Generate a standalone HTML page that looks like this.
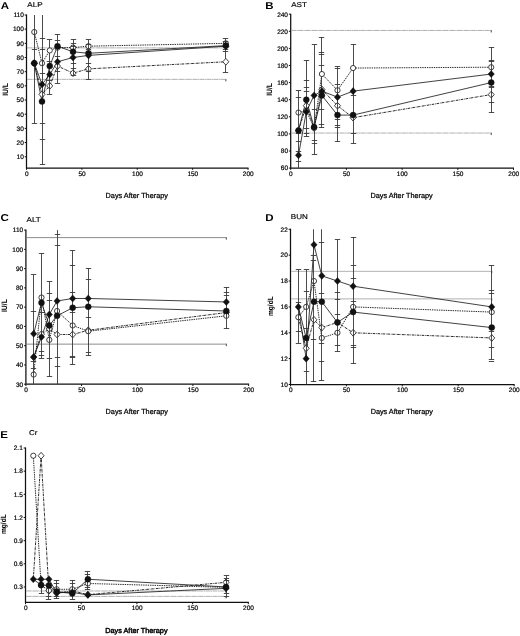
<!DOCTYPE html>
<html lang="en">
<head>
<meta charset="utf-8">
<title>Serum chemistry after therapy</title>
<style>
html,body{margin:0;padding:0;background:#fff;}
body{width:520px;height:636px;overflow:hidden;}
svg{display:block;font-family:"Liberation Sans", Arial, sans-serif;}
</style>
</head>
<body>
<svg width="520" height="636" viewBox="0 0 520 636" text-rendering="geometricPrecision">
<rect width="520" height="636" fill="#fff"/>
<g id="pA">
<path d="M26.5 14.5V168.5M26 168H248.5" stroke="#111" stroke-width="1.25" fill="none"/>
<path d="M24.7 156.73H26.5M24.7 142.56H26.5M24.7 128.39H26.5M24.7 114.21H26.5M24.7 100.04H26.5M24.7 85.87H26.5M24.7 71.69H26.5M24.7 57.52H26.5M24.7 43.35H26.5M24.7 29.17H26.5M24.7 15H26.5M26.5 168V169.8M81.88 168V169.8M137.25 168V169.8M192.62 168V169.8M248 168V169.8" stroke="#111" stroke-width="1" fill="none"/>
<g font-size="6.5" fill="#000" stroke="#000" stroke-width="0.2" text-anchor="end">
<text x="23.8" y="159.03">10</text>
<text x="23.8" y="144.86">20</text>
<text x="23.8" y="130.69">30</text>
<text x="23.8" y="116.51">40</text>
<text x="23.8" y="102.34">50</text>
<text x="23.8" y="88.17">60</text>
<text x="23.8" y="73.99">70</text>
<text x="23.8" y="59.82">80</text>
<text x="23.8" y="45.65">90</text>
<text x="23.8" y="31.47">100</text>
<text x="23.8" y="17.3">110</text>
</g>
<g font-size="6.5" fill="#000" stroke="#000" stroke-width="0.2" text-anchor="middle">
<text x="26.7" y="175.9">0</text>
<text x="82.08" y="175.9">50</text>
<text x="137.45" y="175.9">100</text>
<text x="192.82" y="175.9">150</text>
<text x="248.2" y="175.9">200</text>
</g>
<text x="136.75" y="197.9" font-size="7.3" text-anchor="middle" fill="#000" stroke="#000" stroke-width="0.24">Days After Therapy</text>
<text transform="translate(7.9 89.4) scale(1.15 1) rotate(-90)" font-size="6.8" text-anchor="middle" font-weight="bold" fill="#000">IU/L</text>
<text transform="translate(27.3 6.6) scale(1.15 1)" font-size="7" fill="#000" stroke="#000" stroke-width="0.15">ALP</text>
<text transform="translate(0.8 9.1) scale(1.15 1)" font-size="10" font-weight="bold" fill="#000">A</text>
<path d="M225.85 47.48v2.4M225.85 78.95v2.4" stroke="#333" stroke-width="0.9" fill="none"/>
<path d="M27.1 47.88H225.85M27.1 79.35H225.85" stroke="#a2a2a2" stroke-width="0.85" fill="none" stroke-dasharray="5 0.35 1.2 0.35"/>
<path d="M34.25 63.19L42 94.37L49.76 85.87L57.51 66.02L73.02 73.11L88.52 68.86L225.85 61.77" stroke="#111" stroke-width="0.9" fill="none" stroke-linejoin="round" stroke-dasharray="2.6 0.8 0.7 0.8"/>
<path d="M34.25 32.01L42 63.19L49.76 50.43L57.51 47.6L73.02 47.6L88.52 46.18L225.85 43.35" stroke="#111" stroke-width="0.9" fill="none" stroke-linejoin="round" stroke-dasharray="1.4 0.9"/>
<path d="M34.25 63.19L42 101.46L49.76 66.02L57.51 46.18L73.02 51.85L88.52 53.27L225.85 45.61" stroke="#111" stroke-width="0.8" fill="none" stroke-linejoin="round"/>
<path d="M34.25 63.19L42 84.45L49.76 74.53L57.51 61.77L73.02 57.52L88.52 55.39L225.85 46.18" stroke="#111" stroke-width="0.8" fill="none" stroke-linejoin="round"/>
<g fill="#fff" stroke="#111" stroke-width="0.8"><path d="M34.25 59.79L37.25 63.19L34.25 66.59L31.25 63.19Z"/><path d="M42 90.97L45 94.37L42 97.77L39 94.37Z"/><path d="M49.76 82.47L52.76 85.87L49.76 89.27L46.76 85.87Z"/><path d="M57.51 62.62L60.51 66.02L57.51 69.42L54.51 66.02Z"/><path d="M73.02 69.71L76.02 73.11L73.02 76.51L70.02 73.11Z"/><path d="M88.52 65.46L91.52 68.86L88.52 72.26L85.52 68.86Z"/></g>
<g fill="#fff" stroke="#111" stroke-width="0.8"><circle cx="34.25" cy="32.01" r="2.6"/><circle cx="42" cy="63.19" r="2.6"/><circle cx="57.51" cy="47.6" r="2.6"/><circle cx="73.02" cy="47.6" r="2.6"/><circle cx="88.52" cy="46.18" r="2.6"/><circle cx="225.85" cy="43.35" r="2.6"/></g>
<path d="M34.5 15V123.71M42.5 15V164.67M49.5 39.66V94.37M57.5 34.28V83.03M73.5 39.38V75.38M88.5 39.66V79.63M225.5 38.39V72.4" stroke="#383838" stroke-width="0.9" fill="none"/>
<path d="M31.8 123.5h5.4M31.8 49.5h5.4M39.8 164.5h5.4M39.8 139.5h5.4M39.8 123.5h5.4M39.8 49.5h5.4M39.8 38.5h5.4M39.8 73.5h5.4M46.8 94.5h5.4M46.8 80.5h5.4M46.8 39.5h5.4M46.8 61.5h5.4M54.8 83.5h5.4M54.8 34.5h5.4M54.8 40.5h5.4M54.8 71.5h5.4M54.8 56.5h5.4M70.8 75.5h5.4M70.8 39.5h5.4M70.8 43.5h5.4M70.8 68.5h5.4M70.8 63.5h5.4M70.8 46.5h5.4M85.8 79.5h5.4M85.8 39.5h5.4M85.8 44.5h5.4M85.8 63.5h5.4M85.8 49.5h5.4M85.8 71.5h5.4M222.8 72.5h5.4M222.8 38.5h5.4M222.8 41.5h5.4M222.8 51.5h5.4M222.8 49.5h5.4" stroke="#383838" stroke-width="0.9" fill="none"/>
<g fill="#fff" stroke="#111" stroke-width="0.8"><path d="M225.85 58.37L228.85 61.77L225.85 65.17L222.85 61.77Z"/></g>
<g fill="#fff" stroke="#111" stroke-width="0.8"><circle cx="49.76" cy="50.43" r="2.6"/></g>
<g fill="#111" stroke="#111" stroke-width="0.4"><circle cx="34.25" cy="63.19" r="3.0"/><circle cx="42" cy="101.46" r="3.0"/><circle cx="49.76" cy="66.02" r="3.0"/><circle cx="57.51" cy="46.18" r="3.0"/><circle cx="73.02" cy="51.85" r="3.0"/><circle cx="88.52" cy="53.27" r="3.0"/><circle cx="225.85" cy="45.61" r="3.0"/></g>
<g fill="#111" stroke="#111" stroke-width="0.4"><path d="M34.25 59.64L37.45 63.19L34.25 66.74L31.05 63.19Z"/><path d="M42 80.9L45.2 84.45L42 88L38.8 84.45Z"/><path d="M49.76 70.98L52.96 74.53L49.76 78.08L46.56 74.53Z"/><path d="M57.51 58.22L60.71 61.77L57.51 65.32L54.31 61.77Z"/><path d="M73.02 53.97L76.22 57.52L73.02 61.07L69.81 57.52Z"/><path d="M88.52 51.84L91.72 55.39L88.52 58.94L85.32 55.39Z"/><path d="M225.85 42.63L229.05 46.18L225.85 49.73L222.65 46.18Z"/></g>
</g>
<g id="pB">
<path d="M290.7 13.7V168.6M290.2 168.1H514" stroke="#111" stroke-width="1.25" fill="none"/>
<path d="M288.9 168.1H290.7M288.9 151H290.7M288.9 133.9H290.7M288.9 116.8H290.7M288.9 99.7H290.7M288.9 82.6H290.7M288.9 65.5H290.7M288.9 48.4H290.7M288.9 31.3H290.7M288.9 14.2H290.7M290.7 168.1V169.9M346.4 168.1V169.9M402.1 168.1V169.9M457.8 168.1V169.9M513.5 168.1V169.9" stroke="#111" stroke-width="1" fill="none"/>
<g font-size="6.5" fill="#000" stroke="#000" stroke-width="0.2" text-anchor="end">
<text x="288" y="170.4">60</text>
<text x="288" y="153.3">80</text>
<text x="288" y="136.2">100</text>
<text x="288" y="119.1">120</text>
<text x="288" y="102">140</text>
<text x="288" y="84.9">160</text>
<text x="288" y="67.8">180</text>
<text x="288" y="50.7">200</text>
<text x="288" y="33.6">220</text>
<text x="288" y="16.5">240</text>
</g>
<g font-size="6.5" fill="#000" stroke="#000" stroke-width="0.2" text-anchor="middle">
<text x="290.9" y="175.9">0</text>
<text x="346.6" y="175.9">50</text>
<text x="402.3" y="175.9">100</text>
<text x="458" y="175.9">150</text>
<text x="513.7" y="175.9">200</text>
</g>
<text x="401.6" y="197.9" font-size="7.3" text-anchor="middle" fill="#000" stroke="#000" stroke-width="0.24">Days After Therapy</text>
<text transform="translate(271.8 89.4) scale(1.15 1) rotate(-90)" font-size="6.8" text-anchor="middle" font-weight="bold" fill="#000">IU/L</text>
<text transform="translate(291.2 6.7) scale(1.15 1)" font-size="7" fill="#000" stroke="#000" stroke-width="0.15">AST</text>
<text transform="translate(265.2 8.9) scale(1.15 1)" font-size="10" font-weight="bold" fill="#000">B</text>
<path d="M491.22 30.04v2.4M491.22 132.64v2.4" stroke="#333" stroke-width="0.9" fill="none"/>
<path d="M291.3 30.44H491.22M291.3 133.04H491.22" stroke="#a2a2a2" stroke-width="0.85" fill="none" stroke-dasharray="5 0.35 1.2 0.35"/>
<path d="M298.5 130.48L306.3 105.69L314.09 127.91L321.89 89.44L337.49 105.69L353.08 117.66L491.22 94.57" stroke="#111" stroke-width="0.9" fill="none" stroke-linejoin="round" stroke-dasharray="2.6 0.8 0.7 0.8"/>
<path d="M298.5 112.53L306.3 110.81L314.09 127.91L321.89 74.05L337.49 90.3L353.08 68.06L491.22 67.21" stroke="#111" stroke-width="0.9" fill="none" stroke-linejoin="round" stroke-dasharray="1.4 0.9"/>
<path d="M298.5 130.48L306.3 99.7L314.09 127.06L321.89 95.42L337.49 115.09L353.08 115.09L491.22 82.6" stroke="#111" stroke-width="0.8" fill="none" stroke-linejoin="round"/>
<path d="M298.5 155.28L306.3 111.67L314.09 95.42L321.89 91.15L337.49 97.13L353.08 91.15L491.22 74.05" stroke="#111" stroke-width="0.8" fill="none" stroke-linejoin="round"/>
<g fill="#fff" stroke="#111" stroke-width="0.8"><path d="M298.5 127.08L301.5 130.48L298.5 133.88L295.5 130.48Z"/><path d="M306.3 102.28L309.3 105.69L306.3 109.09L303.3 105.69Z"/><path d="M314.09 124.51L317.09 127.91L314.09 131.31L311.09 127.91Z"/><path d="M321.89 86.04L324.89 89.44L321.89 92.84L318.89 89.44Z"/><path d="M337.49 102.28L340.49 105.69L337.49 109.09L334.49 105.69Z"/><path d="M353.08 114.25L356.08 117.66L353.08 121.06L350.08 117.66Z"/><path d="M491.22 91.17L494.22 94.57L491.22 97.97L488.22 94.57Z"/></g>
<g fill="#fff" stroke="#111" stroke-width="0.8"><circle cx="298.5" cy="112.53" r="2.6"/><circle cx="306.3" cy="110.81" r="2.6"/><circle cx="314.09" cy="127.91" r="2.6"/><circle cx="337.49" cy="90.3" r="2.6"/><circle cx="491.22" cy="67.21" r="2.6"/></g>
<path d="M298.5 90.3V168.1M306.5 60.37V136.47M314.5 44.98V154.93M321.5 37.28V127.91M337.5 66.7V141.59M353.5 44.12V143.31M491.5 47.12V112.53" stroke="#383838" stroke-width="0.9" fill="none"/>
<path d="M295.8 90.5h5.4M295.8 97.5h5.4M295.8 141.5h5.4M295.8 151.5h5.4M295.8 161.5h5.4M295.8 133.5h5.4M303.8 60.5h5.4M303.8 80.5h5.4M303.8 87.5h5.4M303.8 91.5h5.4M303.8 128.5h5.4M303.8 133.5h5.4M303.8 136.5h5.4M311.8 44.5h5.4M311.8 154.5h5.4M311.8 143.5h5.4M311.8 140.5h5.4M311.8 109.5h5.4M318.8 37.5h5.4M318.8 52.5h5.4M318.8 54.5h5.4M318.8 65.5h5.4M318.8 124.5h5.4M318.8 127.5h5.4M318.8 109.5h5.4M334.8 66.5h5.4M334.8 68.5h5.4M334.8 84.5h5.4M334.8 141.5h5.4M334.8 127.5h5.4M334.8 125.5h5.4M334.8 119.5h5.4M350.8 44.5h5.4M350.8 143.5h5.4M350.8 133.5h5.4M350.8 95.5h5.4M488.8 47.5h5.4M488.8 60.5h5.4M488.8 61.5h5.4M488.8 112.5h5.4M488.8 102.5h5.4M488.8 87.5h5.4M488.8 86.5h5.4" stroke="#383838" stroke-width="0.9" fill="none"/>
<g fill="#fff" stroke="#111" stroke-width="0.8"><circle cx="321.89" cy="74.05" r="2.6"/><circle cx="353.08" cy="68.06" r="2.6"/></g>
<g fill="#111" stroke="#111" stroke-width="0.4"><circle cx="298.5" cy="130.48" r="3.0"/><circle cx="306.3" cy="99.7" r="3.0"/><circle cx="314.09" cy="127.06" r="3.0"/><circle cx="321.89" cy="95.42" r="3.0"/><circle cx="337.49" cy="115.09" r="3.0"/><circle cx="353.08" cy="115.09" r="3.0"/><circle cx="491.22" cy="82.6" r="3.0"/></g>
<g fill="#111" stroke="#111" stroke-width="0.4"><path d="M298.5 151.72L301.7 155.28L298.5 158.83L295.3 155.28Z"/><path d="M306.3 108.12L309.5 111.67L306.3 115.22L303.1 111.67Z"/><path d="M314.09 91.88L317.29 95.42L314.09 98.97L310.89 95.42Z"/><path d="M321.89 87.6L325.09 91.15L321.89 94.7L318.69 91.15Z"/><path d="M337.49 93.58L340.69 97.13L337.49 100.68L334.29 97.13Z"/><path d="M353.08 87.6L356.28 91.15L353.08 94.7L349.88 91.15Z"/><path d="M491.22 70.5L494.42 74.05L491.22 77.6L488.02 74.05Z"/></g>
</g>
<g id="pC">
<path d="M25.9 229.6V384.7M25.4 384.2H249.1" stroke="#111" stroke-width="1.25" fill="none"/>
<path d="M24.1 384.2H25.9M24.1 364.94H25.9M24.1 345.68H25.9M24.1 326.41H25.9M24.1 307.15H25.9M24.1 287.89H25.9M24.1 268.62H25.9M24.1 249.36H25.9M24.1 230.1H25.9M25.9 384.2V386M81.57 384.2V386M137.25 384.2V386M192.92 384.2V386M248.6 384.2V386" stroke="#111" stroke-width="1" fill="none"/>
<g font-size="6.5" fill="#000" stroke="#000" stroke-width="0.2" text-anchor="end">
<text x="23.2" y="386.5">30</text>
<text x="23.2" y="367.24">40</text>
<text x="23.2" y="347.98">50</text>
<text x="23.2" y="328.71">60</text>
<text x="23.2" y="309.45">70</text>
<text x="23.2" y="290.19">80</text>
<text x="23.2" y="270.93">90</text>
<text x="23.2" y="251.66">100</text>
<text x="23.2" y="232.4">110</text>
</g>
<g font-size="6.5" fill="#000" stroke="#000" stroke-width="0.2" text-anchor="middle">
<text x="26.1" y="392">0</text>
<text x="81.77" y="392">50</text>
<text x="137.45" y="392">100</text>
<text x="193.12" y="392">150</text>
<text x="248.8" y="392">200</text>
</g>
<text x="136.75" y="414" font-size="7.3" text-anchor="middle" fill="#000" stroke="#000" stroke-width="0.24">Days After Therapy</text>
<text transform="translate(6.8 305.6) scale(1.15 1) rotate(-90)" font-size="6.8" text-anchor="middle" font-weight="bold" fill="#000">IU/L</text>
<text transform="translate(26.6 222.2) scale(1.15 1)" font-size="7" fill="#000" stroke="#000" stroke-width="0.15">ALT</text>
<text transform="translate(0.5 221.3) scale(1.15 1)" font-size="10" font-weight="bold" fill="#000">C</text>
<path d="M226.33 237.21v2.4M226.33 343.73v2.4" stroke="#333" stroke-width="0.9" fill="none"/>
<path d="M26.5 237.61H226.33M26.5 344.13H226.33" stroke="#858585" stroke-width="0.95" fill="none"/>
<path d="M33.69 357.23L41.49 334.12L49.28 328.92L57.08 334.5L72.67 334.5L88.26 330.26L226.33 312.54" stroke="#111" stroke-width="0.9" fill="none" stroke-linejoin="round" stroke-dasharray="2.6 0.8 0.7 0.8"/>
<path d="M33.69 374.57L41.49 297.52L49.28 339.9L57.08 311L72.67 325.45L88.26 331.23L226.33 315.82" stroke="#111" stroke-width="0.9" fill="none" stroke-linejoin="round" stroke-dasharray="1.4 0.9"/>
<path d="M33.69 333.73L41.49 302.72L49.28 325.45L57.08 315.82L72.67 307.73L88.26 306.76L226.33 311" stroke="#111" stroke-width="0.8" fill="none" stroke-linejoin="round"/>
<path d="M33.69 357.04L41.49 337.01L49.28 314.47L57.08 300.99L72.67 298.48L88.26 298.48L226.33 301.95" stroke="#111" stroke-width="0.8" fill="none" stroke-linejoin="round"/>
<g fill="#fff" stroke="#111" stroke-width="0.8"><path d="M33.69 353.83L36.69 357.23L33.69 360.63L30.69 357.23Z"/><path d="M41.49 330.72L44.49 334.12L41.49 337.52L38.49 334.12Z"/><path d="M49.28 325.52L52.28 328.92L49.28 332.32L46.28 328.92Z"/><path d="M57.08 331.1L60.08 334.5L57.08 337.9L54.08 334.5Z"/><path d="M72.67 331.1L75.67 334.5L72.67 337.9L69.67 334.5Z"/><path d="M88.26 326.87L91.26 330.26L88.26 333.66L85.26 330.26Z"/><path d="M226.33 309.14L229.33 312.54L226.33 315.94L223.33 312.54Z"/></g>
<g fill="#fff" stroke="#111" stroke-width="0.8"><circle cx="33.69" cy="374.57" r="2.6"/><circle cx="41.49" cy="297.52" r="2.6"/><circle cx="49.28" cy="339.9" r="2.6"/><circle cx="57.08" cy="311" r="2.6"/><circle cx="72.67" cy="325.45" r="2.6"/><circle cx="88.26" cy="331.23" r="2.6"/><circle cx="226.33" cy="315.82" r="2.6"/></g>
<path d="M33.5 274.98V384.2M41.5 253.79V358.2M49.5 281.53V376.69M57.5 230.1V384.2M72.5 250.71V364.55M88.5 268.24V355.5M226.5 287.31V328.72" stroke="#383838" stroke-width="0.9" fill="none"/>
<path d="M30.8 274.5h5.4M30.8 311.5h5.4M30.8 368.5h5.4M30.8 361.5h5.4M38.8 253.5h5.4M38.8 358.5h5.4M38.8 351.5h5.4M38.8 355.5h5.4M38.8 312.5h5.4M46.8 281.5h5.4M46.8 293.5h5.4M46.8 300.5h5.4M46.8 376.5h5.4M46.8 358.5h5.4M54.8 234.5h5.4M54.8 245.5h5.4M54.8 366.5h5.4M54.8 357.5h5.4M69.8 250.5h5.4M69.8 265.5h5.4M69.8 292.5h5.4M69.8 364.5h5.4M69.8 357.5h5.4M69.8 356.5h5.4M69.8 312.5h5.4M85.8 268.5h5.4M85.8 279.5h5.4M85.8 355.5h5.4M85.8 352.5h5.4M85.8 317.5h5.4M223.8 287.5h5.4M223.8 292.5h5.4M223.8 295.5h5.4M223.8 328.5h5.4" stroke="#383838" stroke-width="0.9" fill="none"/>
<g fill="#111" stroke="#111" stroke-width="0.4"><path d="M33.69 330.18L36.89 333.73L33.69 337.28L30.49 333.73Z"/><circle cx="41.49" cy="302.72" r="3.0"/><circle cx="49.28" cy="325.45" r="3.0"/><circle cx="57.08" cy="315.82" r="3.0"/><circle cx="72.67" cy="307.73" r="3.0"/><circle cx="88.26" cy="306.76" r="3.0"/><circle cx="226.33" cy="311" r="3.0"/></g>
<g fill="#111" stroke="#111" stroke-width="0.4"><path d="M33.69 353.49L36.89 357.04L33.69 360.59L30.49 357.04Z"/><path d="M41.49 333.46L44.69 337.01L41.49 340.56L38.29 337.01Z"/><path d="M49.28 310.92L52.48 314.47L49.28 318.02L46.08 314.47Z"/><path d="M57.08 297.44L60.28 300.99L57.08 304.54L53.88 300.99Z"/><path d="M72.67 294.93L75.87 298.48L72.67 302.03L69.47 298.48Z"/><path d="M88.26 294.93L91.46 298.48L88.26 302.03L85.06 298.48Z"/><path d="M226.33 298.4L229.53 301.95L226.33 305.5L223.13 301.95Z"/></g>
</g>
<g id="pD">
<path d="M290.5 228.8V385M290 384.5H514.6" stroke="#111" stroke-width="1.25" fill="none"/>
<path d="M288.7 384.5H290.5M288.7 358.63H290.5M288.7 332.77H290.5M288.7 306.9H290.5M288.7 281.03H290.5M288.7 255.17H290.5M288.7 229.3H290.5M290.5 384.5V386.3M346.4 384.5V386.3M402.3 384.5V386.3M458.2 384.5V386.3M514.1 384.5V386.3" stroke="#111" stroke-width="1" fill="none"/>
<g font-size="6.5" fill="#000" stroke="#000" stroke-width="0.2" text-anchor="end">
<text x="287.8" y="386.8">10</text>
<text x="287.8" y="360.93">12</text>
<text x="287.8" y="335.07">14</text>
<text x="287.8" y="309.2">16</text>
<text x="287.8" y="283.33">18</text>
<text x="287.8" y="257.47">20</text>
<text x="287.8" y="231.6">22</text>
</g>
<g font-size="6.5" fill="#000" stroke="#000" stroke-width="0.2" text-anchor="middle">
<text x="290.7" y="392">0</text>
<text x="346.6" y="392">50</text>
<text x="402.5" y="392">100</text>
<text x="458.4" y="392">150</text>
<text x="514.3" y="392">200</text>
</g>
<text x="401.8" y="414" font-size="7.3" text-anchor="middle" fill="#000" stroke="#000" stroke-width="0.24">Days After Therapy</text>
<text transform="translate(272.7 306.2) scale(1.15 1) rotate(-90)" font-size="6.6" text-anchor="middle" font-weight="bold" fill="#000">mg/dL</text>
<text transform="translate(290.8 218.8) scale(1.15 1)" font-size="7" fill="#000" stroke="#000" stroke-width="0.15">BUN</text>
<text transform="translate(265.2 221) scale(1.15 1)" font-size="10" font-weight="bold" fill="#000">D</text>
<path d="M491.74 270.93v2.4M491.74 298.48v2.4" stroke="#333" stroke-width="0.9" fill="none"/>
<path d="M291.1 271.33H491.74M291.1 298.88H491.74" stroke="#9c9c9c" stroke-width="0.8" fill="none"/>
<path d="M298.33 317.25L306.15 348.29L313.98 319.83L321.8 327.59L337.46 322.42L353.11 332.77L491.74 337.94" stroke="#111" stroke-width="0.9" fill="none" stroke-linejoin="round" stroke-dasharray="2.6 0.8 0.7 0.8"/>
<path d="M298.33 317.25L306.15 306.9L313.98 281.03L321.8 337.94L337.46 332.77L353.11 306.9L491.74 312.07" stroke="#111" stroke-width="0.9" fill="none" stroke-linejoin="round" stroke-dasharray="1.4 0.9"/>
<path d="M298.33 306.9L306.15 337.94L313.98 301.73L321.8 301.73L337.46 322.42L353.11 312.07L491.74 327.59" stroke="#111" stroke-width="0.8" fill="none" stroke-linejoin="round"/>
<path d="M298.33 306.9L306.15 358.63L313.98 244.82L321.8 275.86L337.46 281.03L353.11 286.21L491.74 306.9" stroke="#111" stroke-width="0.8" fill="none" stroke-linejoin="round"/>
<g fill="#fff" stroke="#111" stroke-width="0.8"><path d="M306.15 344.89L309.15 348.29L306.15 351.69L303.15 348.29Z"/><path d="M313.98 316.43L316.98 319.83L313.98 323.23L310.98 319.83Z"/><path d="M321.8 324.19L324.8 327.59L321.8 330.99L318.8 327.59Z"/><path d="M337.46 319.02L340.46 322.42L337.46 325.82L334.46 322.42Z"/><path d="M353.11 329.37L356.11 332.77L353.11 336.17L350.11 332.77Z"/><path d="M491.74 334.54L494.74 337.94L491.74 341.34L488.74 337.94Z"/></g>
<g fill="#fff" stroke="#111" stroke-width="0.8"><circle cx="298.33" cy="317.25" r="2.6"/><circle cx="306.15" cy="306.9" r="2.6"/><circle cx="313.98" cy="281.03" r="2.6"/><circle cx="321.8" cy="337.94" r="2.6"/><circle cx="337.46" cy="332.77" r="2.6"/><circle cx="353.11" cy="306.9" r="2.6"/><circle cx="491.74" cy="312.07" r="2.6"/></g>
<path d="M298.5 269.91V343.11M306.5 269.91V384.5M313.5 229.3V381.91M321.5 229.3V380.62M337.5 239.65V351.26M353.5 237.06V363.81M491.5 265.51V359.93" stroke="#383838" stroke-width="0.9" fill="none"/>
<path d="M295.8 269.5h5.4M295.8 343.5h5.4M295.8 331.5h5.4M295.8 302.5h5.4M303.8 269.5h5.4M303.8 291.5h5.4M303.8 371.5h5.4M303.8 328.5h5.4M310.8 255.5h5.4M310.8 260.5h5.4M310.8 381.5h5.4M310.8 339.5h5.4M318.8 242.5h5.4M318.8 293.5h5.4M318.8 380.5h5.4M318.8 361.5h5.4M318.8 343.5h5.4M334.8 239.5h5.4M334.8 292.5h5.4M334.8 299.5h5.4M334.8 314.5h5.4M334.8 351.5h5.4M334.8 345.5h5.4M350.8 237.5h5.4M350.8 265.5h5.4M350.8 278.5h5.4M350.8 301.5h5.4M350.8 363.5h5.4M350.8 347.5h5.4M350.8 345.5h5.4M488.8 265.5h5.4M488.8 290.5h5.4M488.8 293.5h5.4M488.8 359.5h5.4M488.8 361.5h5.4M488.8 347.5h5.4M488.8 331.5h5.4" stroke="#383838" stroke-width="0.9" fill="none"/>
<g fill="#111" stroke="#111" stroke-width="0.4"><circle cx="306.15" cy="337.94" r="3.0"/><circle cx="313.98" cy="301.73" r="3.0"/><circle cx="321.8" cy="301.73" r="3.0"/><circle cx="337.46" cy="322.42" r="3.0"/><circle cx="353.11" cy="312.07" r="3.0"/><circle cx="491.74" cy="327.59" r="3.0"/></g>
<g fill="#111" stroke="#111" stroke-width="0.4"><path d="M298.33 303.35L301.53 306.9L298.33 310.45L295.13 306.9Z"/><path d="M306.15 355.08L309.35 358.63L306.15 362.18L302.95 358.63Z"/><path d="M313.98 241.27L317.18 244.82L313.98 248.37L310.78 244.82Z"/><path d="M321.8 272.31L325 275.86L321.8 279.41L318.6 275.86Z"/><path d="M337.46 277.48L340.66 281.03L337.46 284.58L334.26 281.03Z"/><path d="M353.11 282.66L356.31 286.21L353.11 289.76L349.91 286.21Z"/><path d="M491.74 303.35L494.94 306.9L491.74 310.45L488.54 306.9Z"/></g>
</g>
<g id="pE">
<path d="M25.5 447.5V602.9M25 602.4H248.8" stroke="#111" stroke-width="1.25" fill="none"/>
<path d="M23.7 586.96H25.5M23.7 563.8H25.5M23.7 540.64H25.5M23.7 517.48H25.5M23.7 494.32H25.5M23.7 471.16H25.5M23.7 448H25.5M25.5 602.4V604.2M81.2 602.4V604.2M136.9 602.4V604.2M192.6 602.4V604.2M248.3 602.4V604.2" stroke="#111" stroke-width="1" fill="none"/>
<g font-size="6.5" fill="#000" stroke="#000" stroke-width="0.2" text-anchor="end">
<text x="22.8" y="589.26">0.3</text>
<text x="22.8" y="566.1">0.6</text>
<text x="22.8" y="542.94">0.9</text>
<text x="22.8" y="519.78">1.2</text>
<text x="22.8" y="496.62">1.5</text>
<text x="22.8" y="473.46">1.8</text>
<text x="22.8" y="450.3">2.1</text>
</g>
<g font-size="6.5" fill="#000" stroke="#000" stroke-width="0.2" text-anchor="middle">
<text x="25.7" y="610.2">0</text>
<text x="81.4" y="610.2">50</text>
<text x="137.1" y="610.2">100</text>
<text x="192.8" y="610.2">150</text>
<text x="248.5" y="610.2">200</text>
</g>
<text x="136.4" y="633.2" font-size="7.3" text-anchor="middle" fill="#000" stroke="#000" stroke-width="0.42">Days After Therapy</text>
<text transform="translate(6 524.2) scale(1.15 1) rotate(-90)" font-size="6.6" text-anchor="middle" font-weight="bold" fill="#000">mg/dL</text>
<text transform="translate(29 435.3) scale(1.15 1)" font-size="7" fill="#000" stroke="#000" stroke-width="0.15">Cr</text>
<text transform="translate(0.2 437.5) scale(1.15 1)" font-size="10" font-weight="bold" fill="#000">E</text>
<path d="M226.02 590.57v2.4M226.02 595.98v2.4" stroke="#333" stroke-width="0.9" fill="none"/>
<path d="M26.1 590.97H226.02M26.1 596.38H226.02" stroke="#a2a2a2" stroke-width="0.85" fill="none" stroke-dasharray="5 0.35 1.2 0.35"/>
<path d="M33.3 579.24L41.1 455.72L48.89 590.82L56.69 593.14L72.29 590.82L87.88 594.68L226.02 582.33" stroke="#111" stroke-width="0.9" fill="none" stroke-linejoin="round" stroke-dasharray="2.6 0.8 0.7 0.8"/>
<path d="M33.3 455.72L41.1 585.42L48.89 590.43L56.69 589.28L72.29 589.28L87.88 583.49L226.02 587.35" stroke="#111" stroke-width="0.9" fill="none" stroke-linejoin="round" stroke-dasharray="1.4 0.9"/>
<path d="M33.3 579.24L41.1 585.03L48.89 585.42L56.69 591.59L72.29 593.52L87.88 579.24L226.02 586.96" stroke="#111" stroke-width="0.8" fill="none" stroke-linejoin="round"/>
<path d="M33.3 579.24L41.1 579.24L48.89 579.24L56.69 592.75L72.29 592.36L87.88 594.91L226.02 588.35" stroke="#111" stroke-width="0.8" fill="none" stroke-linejoin="round"/>
<g fill="#fff" stroke="#111" stroke-width="0.8"><path d="M41.1 452.32L44.1 455.72L41.1 459.12L38.1 455.72Z"/><path d="M48.89 587.42L51.89 590.82L48.89 594.22L45.89 590.82Z"/><path d="M56.69 589.74L59.69 593.14L56.69 596.54L53.69 593.14Z"/><path d="M72.29 587.42L75.29 590.82L72.29 594.22L69.29 590.82Z"/><path d="M87.88 591.28L90.88 594.68L87.88 598.08L84.88 594.68Z"/><path d="M226.02 578.93L229.02 582.33L226.02 585.73L223.02 582.33Z"/></g>
<g fill="#fff" stroke="#111" stroke-width="0.8"><circle cx="33.3" cy="455.72" r="2.6"/><circle cx="41.1" cy="585.42" r="2.6"/><circle cx="48.89" cy="590.43" r="2.6"/><circle cx="56.69" cy="589.28" r="2.6"/><circle cx="72.29" cy="589.28" r="2.6"/><circle cx="87.88" cy="583.49" r="2.6"/><circle cx="226.02" cy="587.35" r="2.6"/></g>
<path d="M41.5 579.24V593.44M48.5 579.24V599.31M56.5 580.32V598.85M72.5 580.32V599.23M87.5 571.83V589.97M226.5 576V597.69" stroke="#383838" stroke-width="0.9" fill="none"/>
<path d="M38.8 593.5h5.4M45.8 599.5h5.4M45.8 596.5h5.4M53.8 580.5h5.4M53.8 583.5h5.4M53.8 598.5h5.4M53.8 596.5h5.4M69.8 580.5h5.4M69.8 583.5h5.4M69.8 599.5h5.4M84.8 571.5h5.4M84.8 574.5h5.4M84.8 587.5h5.4M84.8 589.5h5.4M223.8 575.5h5.4M223.8 578.5h5.4M223.8 580.5h5.4M223.8 593.5h5.4M223.8 596.5h5.4" stroke="#383838" stroke-width="0.9" fill="none"/>
<g fill="#111" stroke="#111" stroke-width="0.4"><circle cx="41.1" cy="585.03" r="3.0"/><circle cx="48.89" cy="585.42" r="3.0"/><circle cx="56.69" cy="591.59" r="3.0"/><circle cx="72.29" cy="593.52" r="3.0"/><circle cx="87.88" cy="579.24" r="3.0"/><circle cx="226.02" cy="586.96" r="3.0"/></g>
<g fill="#111" stroke="#111" stroke-width="0.4"><path d="M33.3 575.69L36.5 579.24L33.3 582.79L30.1 579.24Z"/><path d="M41.1 575.69L44.3 579.24L41.1 582.79L37.9 579.24Z"/><path d="M48.89 575.69L52.09 579.24L48.89 582.79L45.69 579.24Z"/><path d="M56.69 589.2L59.89 592.75L56.69 596.3L53.49 592.75Z"/><path d="M72.29 588.81L75.49 592.36L72.29 595.91L69.09 592.36Z"/><path d="M87.88 591.36L91.08 594.91L87.88 598.46L84.68 594.91Z"/><path d="M226.02 584.8L229.22 588.35L226.02 591.9L222.82 588.35Z"/></g>
</g>
</svg>
</body>
</html>
